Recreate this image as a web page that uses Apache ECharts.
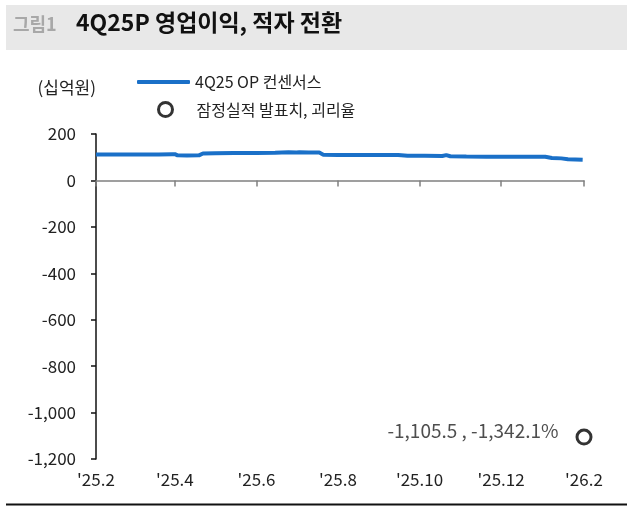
<!DOCTYPE html>
<html>
<head>
<meta charset="utf-8">
<script src="https://cdn.jsdelivr.net/npm/echarts@6/dist/echarts.min.js"></script>
<style>
  html, body { margin: 0; padding: 0; background: #fff; }
  #chart { width: 627px; height: 509px; }
</style>
</head>
<body>
<div id="chart"></div>
<script>
  // 4Q25 OP 컨센서스 (십억원)
  const opDates = [
    '2025-02-01', '2025-02-10', '2025-02-20', '2025-03-01', '2025-03-10', '2025-03-20',
    '2025-03-30', '2025-04-01', '2025-04-03', '2025-04-10', '2025-04-19', '2025-04-22',
    '2025-05-01', '2025-05-15', '2025-06-01', '2025-06-15', '2025-06-25', '2025-07-01',
    '2025-07-03', '2025-07-10', '2025-07-18', '2025-07-21', '2025-08-01', '2025-08-15',
    '2025-09-01', '2025-09-15', '2025-09-22', '2025-10-05', '2025-10-18', '2025-10-21',
    '2025-10-24', '2025-11-05', '2025-11-20', '2025-12-05', '2025-12-20', '2026-01-03',
    '2026-01-08', '2026-01-15', '2026-01-20', '2026-01-31'
  ]
  const opValues = [
    112, 112, 112, 112, 112, 112,
    113, 113, 108, 107, 108, 116,
    117, 118, 118, 119, 121, 120,
    121, 120, 120, 111, 110, 110,
    110, 110, 106, 106, 105, 109,
    104, 103, 102, 102, 102, 102,
    97, 95, 91, 89
  ]
  // 잠정실적 발표치, 괴리율
  const actualDate = '2026-02-01'
  const actualValue = -1105.5
  const actualGap = -1342.1
  // x축 눈금 (2개월 간격)
  const tickDates = ['2025-02-01', '2025-04-01', '2025-06-01', '2025-08-01', '2025-10-01', '2025-12-01', '2026-02-01']

  const toTime = s => {
    const p = s.split('-').map(Number)
    return new Date(p[0], p[1] - 1, p[2]).getTime()
  }
  const tickValues = tickDates.map(toTime)
  const fmt = v => v.toLocaleString('en-US', { maximumFractionDigits: 1 })
  const font = '"Noto Sans CJK KR", "Noto Sans", sans-serif'
  const textColor = '#222'
  const blue = '#1a70c8'

  const chart = echarts.init(document.getElementById('chart'))
  chart.setOption({
    animation: false,
    textStyle: { fontFamily: font, color: textColor },
    graphic: [
      { type: 'rect', left: 6, top: 5, shape: { width: 621, height: 45 }, style: { fill: '#e8e8e8' } },
      {
        type: 'text', left: 13, top: 15,
        style: { text: '그림1', fill: '#a8a8a8', font: 'bold 18px ' + font }
      },
      {
        type: 'text', left: 76, top: 11,
        style: { text: '4Q25P 영업이익, 적자 전환', fill: '#111', font: 'bold 23px ' + font }
      },
      {
        type: 'line', shape: { x1: 6, y1: 504.5, x2: 627, y2: 504.5 },
        style: { stroke: '#111', lineWidth: 2 }
      }
    ],
    legend: [
      {
        left: 132,
        top: 69,
        itemWidth: 53,
        itemHeight: 4,
        icon: 'roundRect',
        textStyle: { fontSize: 16, color: textColor, fontFamily: font },
        data: ['4Q25 OP 컨센서스']
      },
      {
        left: 152,
        top: 96,
        itemWidth: 14,
        itemHeight: 14,
        icon: 'circle',
        textStyle: { fontSize: 16, color: textColor, fontFamily: font, padding: [0, 0, 0, 19] },
        data: [{
          name: '잠정실적 발표치, 괴리율',
          itemStyle: { color: '#fff', borderColor: '#000', borderWidth: 3 }
        }]
      }
    ],
    grid: { left: 96, right: 43, top: 134, bottom: 50, containLabel: false },
    xAxis: [
      {
        // 하단 날짜 라벨
        type: 'value',
        position: 'bottom',
        min: tickValues[0],
        max: tickValues[tickValues.length - 1],
        splitLine: { show: false },
        axisLine: { show: false, onZero: false },
        axisTick: { show: false },
        axisLabel: {
          customValues: tickValues,
          margin: 12,
          fontSize: 17,
          color: textColor,
          fontFamily: font,
          formatter: v => {
            const d = new Date(v)
            return "'" + String(d.getFullYear()).slice(2) + '.' + (d.getMonth() + 1)
          }
        }
      },
      {
        // 0 기준선과 눈금
        type: 'value',
        position: 'top',
        min: tickValues[0],
        max: tickValues[tickValues.length - 1],
        splitLine: { show: false },
        axisLine: { show: true, onZero: true, lineStyle: { color: '#808080', width: 1.5 } },
        axisTick: { show: true, inside: true, length: 6, customValues: tickValues, lineStyle: { color: '#808080', width: 1.5 } },
        axisLabel: { show: false }
      }
    ],
    yAxis: {
      type: 'value',
      min: -1200,
      max: 200,
      interval: 200,
      name: '(십억원)',
      nameLocation: 'end',
      nameGap: 38,
      nameTextStyle: { align: 'right', fontSize: 17, color: textColor, fontFamily: font },
      splitLine: { show: false },
      axisLine: { show: true, onZero: false, lineStyle: { color: '#111', width: 1.5 } },
      axisTick: { show: true, length: 5, lineStyle: { color: '#111', width: 1.5 } },
      axisLabel: { margin: 20, fontSize: 17, color: textColor, fontFamily: font, formatter: fmt }
    },
    series: [
      {
        name: '4Q25 OP 컨센서스',
        type: 'line',
        xAxisIndex: 0,
        symbol: 'none',
        showSymbol: false,
        lineStyle: { color: blue, width: 4 },
        itemStyle: { color: blue },
        data: opDates.map((d, i) => [toTime(d), opValues[i]])
      },
      {
        name: '잠정실적 발표치, 괴리율',
        type: 'scatter',
        xAxisIndex: 0,
        symbol: 'circle',
        symbolSize: 14,
        itemStyle: { color: '#fff', borderColor: '#000', borderWidth: 3 },
        label: {
          show: true,
          position: 'left',
          distance: 17,
          offset: [0, -6],
          fontSize: 19,
          color: textColor,
          fontFamily: font,
          formatter: p => fmt(p.value[1]) + ' , ' + fmt(p.value[2]) + '%'
        },
        data: [[toTime(actualDate), actualValue, actualGap]]
      }
    ]
  })
</script>
</body>
</html>
